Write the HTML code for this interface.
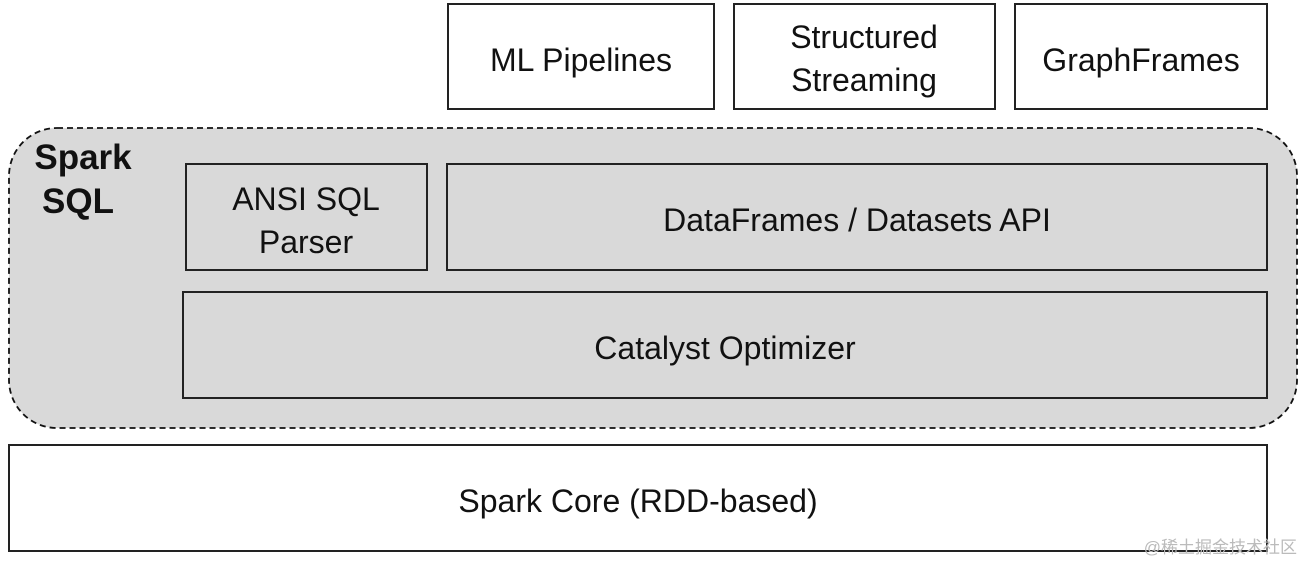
<!DOCTYPE html>
<html><head><meta charset="utf-8"><style>
html,body{margin:0;padding:0;background:#fff;}
svg{display:block;}
text{font-family:"Liberation Sans",sans-serif;fill:#111;}
</style></head><body>
<svg width="1304" height="563" viewBox="0 0 1304 563" xmlns="http://www.w3.org/2000/svg">
<rect x="9" y="128" width="1288" height="300" rx="48" fill="#d9d9d9" stroke="#111" stroke-width="1.8" stroke-dasharray="6,4"/>
<g fill="#fff" stroke="#222" stroke-width="2">
<rect x="448" y="4" width="266" height="105"/>
<rect x="734" y="4" width="261" height="105"/>
<rect x="1015" y="4" width="252" height="105"/>
<rect x="9" y="445" width="1258" height="106"/>
</g>
<g fill="#d9d9d9" stroke="#222" stroke-width="2">
<rect x="186" y="164" width="241" height="106"/>
<rect x="447" y="164" width="820" height="106"/>
<rect x="183" y="292" width="1084" height="106"/>
</g>
<g font-size="32" text-anchor="middle">
<text x="581" y="71">ML Pipelines</text>
<text x="864" y="48">Structured</text>
<text x="864" y="91">Streaming</text>
<text x="1141" y="71">GraphFrames</text>
<text x="306" y="210">ANSI SQL</text>
<text x="306" y="253">Parser</text>
<text x="857" y="231">DataFrames / Datasets API</text>
<text x="725" y="359">Catalyst Optimizer</text>
<text x="638" y="512">Spark Core (RDD-based)</text>
</g>
<g font-size="35" font-weight="bold" text-anchor="middle">
<text x="83" y="169">Spark</text>
<text x="78" y="213">SQL</text>
</g>
<text x="1297" y="553" font-size="17" text-anchor="end" style="fill:#bbb;font-family:'Liberation Sans','Noto Sans CJK SC',sans-serif">@稀土掘金技术社区</text>
</svg>
</body></html>
